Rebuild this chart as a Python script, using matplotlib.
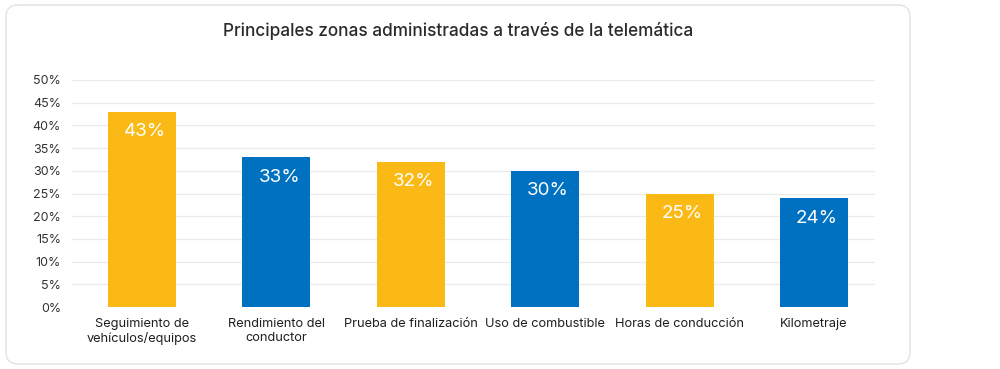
import matplotlib
matplotlib.use("Agg")
import matplotlib.pyplot as plt
from matplotlib.patches import FancyBboxPatch
from matplotlib.ticker import FuncFormatter

plt.rcParams['font.family'] = ['Inter', 'DejaVu Sans']

categories = ["Seguimiento de\nvehículos/equipos", "Rendimiento del\nconductor",
              "Prueba de finalización", "Uso de combustible",
              "Horas de conducción", "Kilometraje"]
values = [43, 33, 32, 30, 25, 24]
colors = ["#FBB916", "#0071C1", "#FBB916", "#0071C1", "#FBB916", "#0071C1"]
yticks = [0, 5, 10, 15, 20, 25, 30, 35, 40, 45, 50]
title = "Principales zonas administradas a través de la telemática"

fig = plt.figure(figsize=(10, 3.69), dpi=100)
W, H = 1000, 369

card = FancyBboxPatch((6 / W, 5 / H), 904 / W, 359 / H,
                      boxstyle="round,pad=0,rounding_size=0.012",
                      transform=fig.transFigure, facecolor="white",
                      edgecolor="#e2e2e2", linewidth=1.0, mutation_aspect=W / H,
                      zorder=-10)
fig.patches.append(card)

ax = fig.add_axes([72 / W, 1 - 307 / H, 803 / W, 227 / H])
ax.set_zorder(5)
ax.set_facecolor("none")
x = list(range(len(categories)))
bars = ax.bar(x, values, width=0.506, color=colors, zorder=3)
ax.set_xlim(-0.521, 5.454)
ax.set_ylim(0, 50)
ax.set_yticks(yticks)
ax.yaxis.set_major_formatter(FuncFormatter(lambda v, p: f"{int(v)}%"))
ax.grid(axis="y", color="#ebebeb", linewidth=0.9, zorder=0)
for s in ax.spines.values():
    s.set_visible(False)
ax.tick_params(axis="both", length=0, labelsize=9, colors="#333333")
ax.tick_params(axis="y", pad=8)
ax.tick_params(axis="x", pad=8)
ax.set_xticks(x)
ax.set_xticklabels(categories, fontsize=9.2, color="#1f1f1f", linespacing=1.2, va="top")

for b, v in zip(bars, values):
    ax.annotate(f"{v}%", (b.get_x() + b.get_width() / 2, v), xytext=(2, -14.5),
                textcoords="offset points", ha="center", va="center",
                color="white", fontsize=13.5, zorder=4)

fig.text(458 / W, 1 - 31 / H, title, ha="center", va="center",
         fontsize=12.4, color="#2b2b2b", fontweight="medium", zorder=6)

fig.savefig("out.png", dpi=100, facecolor="white")
